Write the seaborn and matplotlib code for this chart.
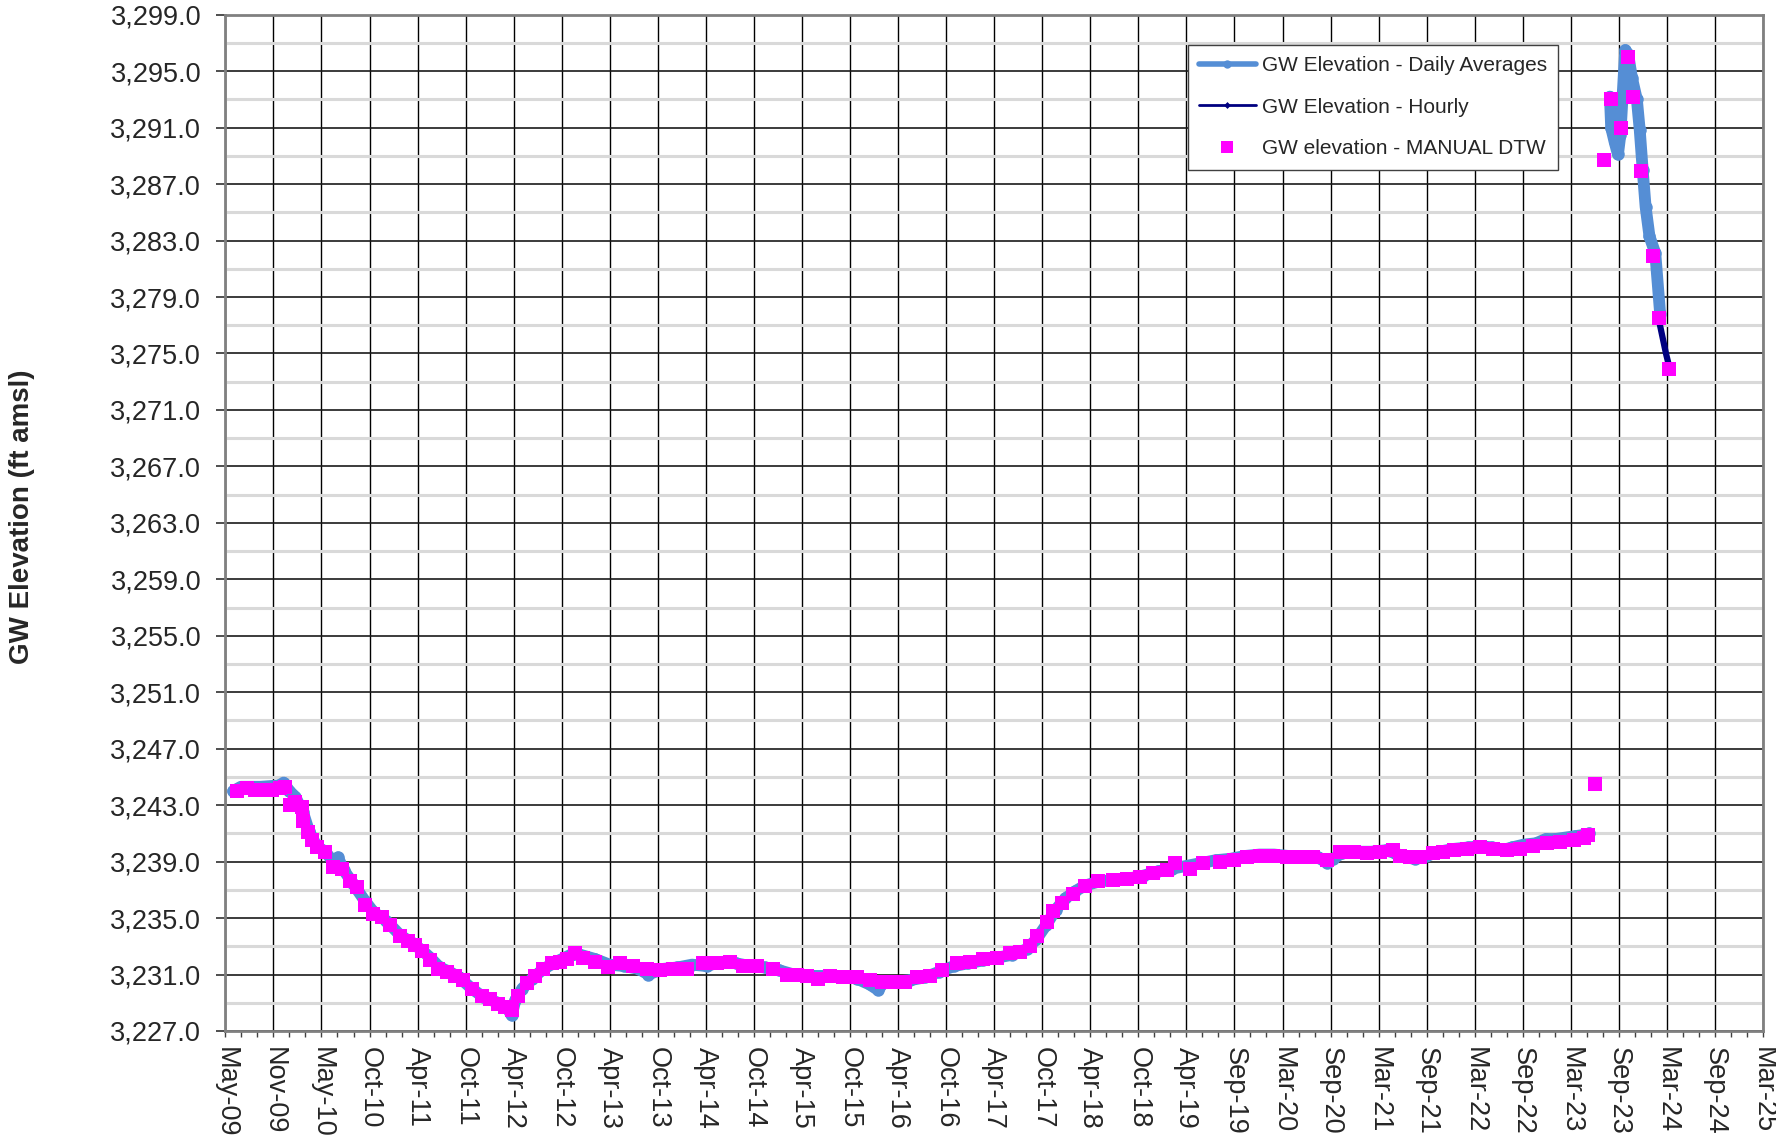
import numpy as np
import pandas as pd
import matplotlib
matplotlib.use("Agg")
import matplotlib.pyplot as plt
from matplotlib.lines import Line2D
from matplotlib.ticker import FuncFormatter, FixedLocator
import seaborn as sns

# ==================== Data (decimal year, GW elevation ft amsl) ====================
# daily averages, first record (2009 - 2023)
daily_year_1 = [2009.42, 2009.50, 2009.70, 2009.90, 2009.94, 2010.00, 2010.06, 2010.14, 2010.20,
                2010.28, 2010.37, 2010.45, 2010.50, 2010.56, 2010.65, 2010.78, 2010.87, 2011.00,
                2011.14, 2011.25, 2011.37, 2011.45, 2011.55, 2011.65, 2011.75, 2011.88, 2012.00,
                2012.15, 2012.25, 2012.29, 2012.33, 2012.40, 2012.50, 2012.62, 2012.75, 2012.90,
                2013.00, 2013.15, 2013.30, 2013.45, 2013.60, 2013.70, 2013.85, 2014.00, 2014.15,
                2014.30, 2014.45, 2014.60, 2014.75, 2014.90, 2015.05, 2015.20, 2015.40, 2015.55,
                2015.70, 2015.85, 2015.98, 2016.07, 2016.12, 2016.25, 2016.40, 2016.55, 2016.70,
                2016.85, 2017.00, 2017.15, 2017.30, 2017.45, 2017.60, 2017.70, 2017.80, 2017.90,
                2018.00, 2018.10, 2018.20, 2018.35, 2018.50, 2018.65, 2018.80, 2018.95, 2019.10,
                2019.25, 2019.40, 2019.55, 2019.70, 2019.85, 2020.00, 2020.15, 2020.30, 2020.45,
                2020.60, 2020.70, 2020.76, 2020.85, 2021.00, 2021.15, 2021.30, 2021.40, 2021.50,
                2021.60, 2021.72, 2021.85, 2022.00, 2022.15, 2022.28, 2022.40, 2022.50, 2022.60,
                2022.72, 2022.85, 2022.95, 2023.05, 2023.15, 2023.25, 2023.35, 2023.40]
daily_elev_1 = [3244.0, 3244.3, 3244.3, 3244.4, 3244.6, 3244.0, 3243.6, 3242.5, 3241.2,
                3240.1, 3239.7, 3239.0, 3239.3, 3238.4, 3237.5, 3236.2, 3235.4, 3234.8,
                3233.8, 3233.3, 3232.7, 3232.2, 3231.5, 3231.2, 3230.8, 3230.0, 3229.4,
                3229.0, 3228.6, 3228.1, 3229.2, 3230.0, 3230.7, 3231.4, 3231.9, 3232.4,
                3232.4, 3232.1, 3231.7, 3231.6, 3231.4, 3231.0, 3231.4, 3231.5, 3231.7,
                3231.6, 3231.9, 3231.8, 3231.6, 3231.5, 3231.3, 3231.0, 3230.9, 3230.9,
                3230.9, 3230.7, 3230.3, 3229.9, 3230.4, 3230.5, 3230.6, 3230.8, 3231.2,
                3231.6, 3231.8, 3232.0, 3232.2, 3232.4, 3232.8, 3233.5, 3234.5, 3235.6,
                3236.4, 3236.9, 3237.3, 3237.6, 3237.7, 3237.8, 3238.0, 3238.3, 3238.5,
                3238.7, 3238.9, 3239.1, 3239.2, 3239.4, 3239.5, 3239.5, 3239.4, 3239.4,
                3239.3, 3238.9, 3239.2, 3239.6, 3239.7, 3239.7, 3239.8, 3239.6, 3239.3,
                3239.2, 3239.4, 3239.7, 3239.9, 3240.0, 3240.1, 3240.0, 3239.8, 3240.0,
                3240.2, 3240.3, 3240.6, 3240.6, 3240.7, 3240.8, 3240.9, 3241.0]

# daily averages, second record (late 2023 - 2024)
daily_year_2 = [2023.612, 2023.625, 2023.66, 2023.695, 2023.72, 2023.745, 2023.77, 2023.80,
                2023.84, 2023.89, 2023.92, 2023.95, 2023.98, 2024.02, 2024.08, 2024.13]
daily_elev_2 = [3293.2, 3291.0, 3290.0, 3289.1, 3290.5, 3293.5, 3296.5, 3296.2,
                3294.5, 3293.0, 3290.8, 3288.0, 3285.4, 3283.3, 3282.1, 3277.8]

hourly_year = [2024.11, 2024.15, 2024.19, 2024.215]
hourly_elev = [3277.6, 3276.3, 3275.0, 3274.3]

manual_year = [2009.464, 2009.561, 2009.646, 2009.732, 2009.818, 2009.904, 2009.955, 2010.007,
               2010.059, 2010.128, 2010.144, 2010.196, 2010.231, 2010.282, 2010.368, 2010.453,
               2010.540, 2010.626, 2010.695, 2010.780, 2010.866, 2010.952, 2011.038, 2011.141,
               2011.227, 2011.296, 2011.365, 2011.450, 2011.536, 2011.622, 2011.708, 2011.794,
               2011.880, 2011.983, 2012.069, 2012.154, 2012.223, 2012.293, 2012.361, 2012.447,
               2012.533, 2012.618, 2012.705, 2012.790, 2012.860, 2012.945, 2013.031, 2013.151,
               2013.288, 2013.409, 2013.546, 2013.684, 2013.821, 2013.958, 2014.097, 2014.268,
               2014.406, 2014.543, 2014.680, 2014.818, 2014.989, 2015.128, 2015.231, 2015.334,
               2015.453, 2015.574, 2015.711, 2015.849, 2015.986, 2016.107, 2016.226, 2016.347,
               2016.468, 2016.605, 2016.725, 2016.880, 2017.017, 2017.154, 2017.292, 2017.430,
               2017.533, 2017.636, 2017.705, 2017.808, 2017.876, 2017.963, 2018.082, 2018.203,
               2018.340, 2018.494, 2018.633, 2018.770, 2018.907, 2019.045, 2019.131, 2019.285,
               2019.422, 2019.594, 2019.732, 2019.870, 2020.007, 2020.144, 2020.282, 2020.419,
               2020.556, 2020.694, 2020.831, 2020.969, 2021.107, 2021.244, 2021.381, 2021.450,
               2021.553, 2021.656, 2021.793, 2021.896, 2022.000, 2022.138, 2022.275, 2022.412,
               2022.550, 2022.687, 2022.824, 2022.962, 2023.099, 2023.237, 2023.340, 2023.391,
               2023.460, 2023.553, 2023.625, 2023.725, 2023.803, 2023.855, 2023.935, 2024.055,
               2024.123, 2024.226]
manual_elev = [3244.0, 3244.2, 3244.1, 3244.1, 3244.1, 3244.2, 3244.3, 3243.0,
               3243.2, 3242.9, 3241.9, 3241.1, 3240.5, 3240.0, 3239.7, 3238.6,
               3238.5, 3237.6, 3237.2, 3235.9, 3235.3, 3235.1, 3234.5, 3233.7,
               3233.4, 3233.1, 3232.7, 3232.0, 3231.4, 3231.2, 3230.9, 3230.6,
               3230.0, 3229.5, 3229.3, 3228.9, 3228.7, 3228.5, 3229.5, 3230.4,
               3230.9, 3231.4, 3231.8, 3231.9, 3232.1, 3232.5, 3232.2, 3231.9,
               3231.5, 3231.8, 3231.6, 3231.4, 3231.3, 3231.4, 3231.4, 3231.8,
               3231.8, 3231.9, 3231.6, 3231.6, 3231.4, 3231.0, 3231.0, 3230.9,
               3230.7, 3230.9, 3230.8, 3230.8, 3230.6, 3230.5, 3230.5, 3230.5,
               3230.8, 3230.9, 3231.3, 3231.8, 3231.9, 3232.1, 3232.2, 3232.5,
               3232.6, 3233.0, 3233.7, 3234.7, 3235.5, 3236.1, 3236.7, 3237.3,
               3237.6, 3237.7, 3237.8, 3237.9, 3238.2, 3238.4, 3238.9, 3238.5,
               3238.9, 3239.0, 3239.1, 3239.3, 3239.4, 3239.4, 3239.3, 3239.3,
               3239.3, 3239.1, 3239.7, 3239.7, 3239.6, 3239.7, 3239.8, 3239.4,
               3239.3, 3239.3, 3239.6, 3239.7, 3239.8, 3239.9, 3240.0, 3239.9,
               3239.8, 3239.9, 3240.1, 3240.3, 3240.4, 3240.5, 3240.7, 3240.9,
               3244.5, 3288.7, 3293.0, 3291.0, 3296.0, 3293.2, 3287.9, 3281.9,
               3277.5, 3273.9]

x_labels = ['May-09', 'Nov-09', 'May-10', 'Oct-10', 'Apr-11', 'Oct-11', 'Apr-12', 'Oct-12',
            'Apr-13', 'Oct-13', 'Apr-14', 'Oct-14', 'Apr-15', 'Oct-15', 'Apr-16', 'Oct-16',
            'Apr-17', 'Oct-17', 'Apr-18', 'Oct-18', 'Apr-19', 'Sep-19', 'Mar-20', 'Sep-20',
            'Mar-21', 'Sep-21', 'Mar-22', 'Sep-22', 'Mar-23', 'Sep-23', 'Mar-24', 'Sep-24',
            'Mar-25']

# ==================== Frames ====================
daily = pd.concat([
    pd.DataFrame({'year': daily_year_1, 'elev': daily_elev_1, 'seg': 1}),
    pd.DataFrame({'year': daily_year_2, 'elev': daily_elev_2, 'seg': 2}),
], ignore_index=True)
hourly = pd.DataFrame({'year': hourly_year, 'elev': hourly_elev})
manual = pd.DataFrame({'year': manual_year, 'elev': manual_elev})

# ==================== Plot ====================
sns.set_theme(style='white')
plt.rcParams['font.family'] = ['Liberation Sans', 'DejaVu Sans']

blue = '#558ED5'
navy = '#000080'
magenta = '#FF00FF'

fig = plt.figure(figsize=(17.76, 11.43), dpi=100)
ax = fig.add_axes([0.1269, 0.098, 0.8658, 0.8891])

sns.lineplot(data=daily, x='year', y='elev', units='seg', estimator=None, ax=ax,
             color=blue, linewidth=8.5, marker='o', markersize=9, markeredgewidth=0,
             solid_capstyle='round', solid_joinstyle='round', zorder=3)
sns.lineplot(data=hourly, x='year', y='elev', estimator=None, ax=ax,
             color=navy, linewidth=4.5, solid_capstyle='round', zorder=4)
sns.scatterplot(data=manual, x='year', y='elev', ax=ax, marker='s', s=105,
                color=magenta, linewidth=0, zorder=5)

# x axis: Excel-style date axis, ~181 day major unit, 2 minor ticks between
x0, step = 2009.340, 0.49533
major_x = [x0 + i * step for i in range(len(x_labels))]
minor_x = [x0 + i * step / 3 for i in range(3 * (len(x_labels) - 1) + 1)]
ax.set_xlim(major_x[0], major_x[-1])
ax.xaxis.set_major_locator(FixedLocator(major_x))
ax.xaxis.set_minor_locator(FixedLocator(minor_x))
ax.set_xticklabels(x_labels, rotation=-90, fontsize=19.5)

ax.set_ylim(3227, 3299)
ax.yaxis.set_major_locator(FixedLocator(np.arange(3227, 3300, 4)))
ax.yaxis.set_minor_locator(FixedLocator(np.arange(3229, 3299, 4)))
ax.yaxis.set_major_formatter(FuncFormatter(lambda v, p: f'{v:,.1f}'))
ax.tick_params(axis='y', which='major', labelsize=19.5, length=6.5, width=1.3,
               color='#404040', left=True, pad=11)
ax.tick_params(axis='y', which='minor', left=False)
ax.tick_params(axis='x', which='both', bottom=True, length=4.5, width=1,
               color='#404040', pad=7)
ax.tick_params(axis='x', which='major', labelsize=19.5)

ax.set_axisbelow(True)
ax.grid(which='major', axis='x', color='#000000', lw=1)
ax.grid(which='major', axis='y', color='#1a1a1a', lw=1.2)
ax.grid(which='minor', axis='y', color='#d9d9d9', lw=2.2)

for s in ax.spines.values():
    s.set_color('#808080')
    s.set_linewidth(2)

ax.set_xlabel('')
ax.set_ylabel('GW Elevation (ft amsl)', fontsize=20, fontweight='bold')
ax.yaxis.set_label_coords(-0.124, 0.506)

handles = [
    Line2D([], [], color=blue, lw=4, marker='o', ms=6, mew=0),
    Line2D([], [], color=navy, lw=2, marker='D', ms=3.5, mew=0),
    Line2D([], [], color=magenta, lw=0, marker='s', ms=8.5, mew=0),
]
labels = ['GW Elevation - Daily Averages', 'GW Elevation - Hourly', 'GW elevation - MANUAL DTW']
leg = ax.legend(handles, labels, loc='upper right', bbox_to_anchor=(0.8669, 0.9702),
                borderaxespad=0, fontsize=15, frameon=True, fancybox=False,
                framealpha=1, edgecolor='#404040', handlelength=2.7, handletextpad=0.3,
                labelspacing=1.07, borderpad=0.55)
leg.get_frame().set_linewidth(1)

fig.savefig('out.png', dpi=100)
